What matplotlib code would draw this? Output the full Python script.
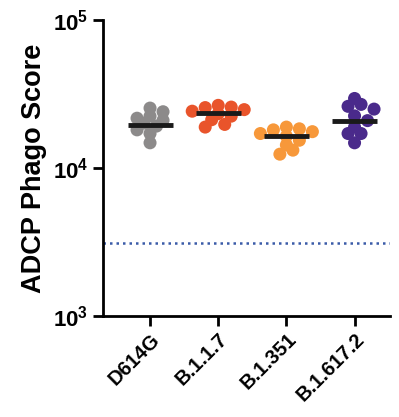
import matplotlib.pyplot as plt
import numpy as np

plt.rcParams['font.family'] = ['Liberation Sans', 'DejaVu Sans']
plt.rcParams['font.weight'] = 'bold'

# ADCP phago scores per variant
VARIANTS = ["D614G", "B.1.1.7", "B.1.351", "B.1.617.2"]
COLORS = ["#8c8a8a", "#e9542b", "#f7983a", "#4a2a8b"]
D614G = [25400, 24000, 22400, 21700, 21000, 20100, 19200, 18100, 17100, 14800]
B117 = [26500, 25800, 25600, 24800, 24200, 23300, 22400, 21200, 19700, 18900]
B1351 = [18900, 18400, 18100, 17600, 17100, 16400, 15400, 14300, 13200, 12400]
B16172 = [29500, 26900, 26100, 25000, 22500, 20900, 18900, 17100, 17100, 14800]
MEDIANS = [19600, 23500, 16500, 20800]
LIMIT = 3100

groups = [D614G, B117, B1351, B16172]


def swarm(vals, ax, diam_px):
    # simple beeswarm: place points one by one, shift sideways until no overlap
    trans = ax.transData
    order = np.argsort(vals)[::-1]
    placed = []
    offs = np.zeros(len(vals))
    x0 = trans.transform((0, 1))[0]
    x1 = trans.transform((1, 1))[0]
    px_per_x = x1 - x0
    for i in order:
        y = trans.transform((0, vals[i]))[1]
        for k in [0, 1, -1, 2, -2, 3, -3, 4, -4, 5, -5]:
            dx = k * diam_px * 0.5
            if all((dx - px) ** 2 + (y - py) ** 2 >= (diam_px * 0.62) ** 2 for px, py in placed):
                break
        placed.append((dx, y))
        offs[i] = dx / px_per_x
    return offs


fig = plt.figure(figsize=(3.99, 4.17), dpi=100)
ax = fig.add_axes([103 / 399, 1 - 316 / 417, 287 / 399, 296 / 417])
ax.set_yscale('log')
ax.set_ylim(1e3, 1e5)
ax.set_xlim(-0.69, 3.52)

ax.axhline(LIMIT, color="#3a5ba8", lw=1.8, ls=(0, (1, 1.6)), zorder=1)

for i, vals in enumerate(groups):
    offs = swarm(vals, ax, 13)
    ax.scatter(i + offs, vals, s=88, color=COLORS[i], edgecolor='none', zorder=2)
    ax.hlines(MEDIANS[i], i - 0.33, i + 0.33, color="#1a1a1a", lw=3.5, zorder=3)

for s in ['top', 'right']:
    ax.spines[s].set_visible(False)
for s in ['left', 'bottom']:
    ax.spines[s].set_linewidth(2)

ax.set_xticks(range(len(VARIANTS)))
ax.set_xticklabels(VARIANTS, rotation=45, ha='right', rotation_mode='anchor', fontsize=14.5)
ax.set_yticks([1e3, 1e4, 1e5])
ax.yaxis.set_minor_locator(plt.NullLocator())
ax.tick_params(axis='both', width=2, length=7, labelsize=16)
ax.tick_params(axis='x', labelsize=14.5, pad=3)
ax.set_ylabel("ADCP Phago Score", fontsize=19.5, fontweight='bold', labelpad=4)

fig.savefig("out.png", dpi=100)
